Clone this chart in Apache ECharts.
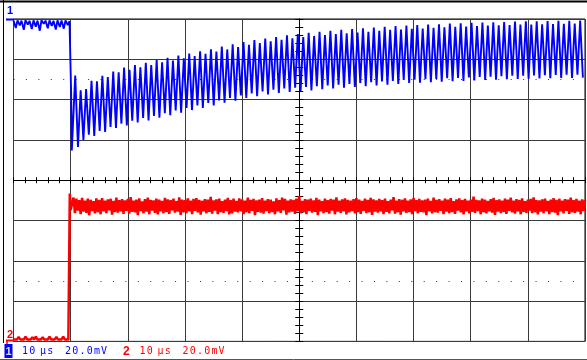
<!DOCTYPE html>
<html><head><meta charset="utf-8">
<script src="https://cdn.jsdelivr.net/npm/echarts@6/dist/echarts.min.js"></script>
<style>html,body{margin:0;padding:0;background:#fff}#c{width:587px;height:360px}</style>
</head><body><div id="c"></div>
<script>
// ---- scope settings (μs / mV) ----
const timeRange = [0, 100];
const timeDiv = 10;
const voltRange = [-80, 80];
const voltDiv = 20;
const refLevels = [50, -50];

// ---- channel 1 (blue) ----
const ch1Pre = [[0,79.3],[0.4,75.5],[0.7,79.3],[1.1,76.8],[1.4,79.2],[1.8,74.6],[2.1,79.4],[2.5,77.2],[2.8,79.1],[3.2,75.0],[3.5,79.3],[3.9,76.2],[4.2,79.2],[4.6,74.2],[4.9,79.4],[5.3,77.6],[5.6,79.2],[6.0,75.4],[6.3,79.3],[6.7,76.6],[7.0,79.1],[7.4,74.8],[7.7,79.3],[8.1,76.0],[8.4,79.2],[8.8,75.2],[9.1,79.3],[9.5,77.0],[9.8,79.0],[10.0,78.8],[10.08,44.0],[10.2,14.8]];
const ch1Ring = [
[10.80,52.0],[11.28,16.5],[11.75,44.6],[12.23,20.0],[12.70,45.2],[13.18,22.6],[13.65,49.3],[14.13,21.9],[14.60,49.1],[15.08,24.5],
[15.55,51.8],[16.03,24.0],[16.50,51.2],[16.98,26.4],[17.45,53.9],[17.93,25.9],[18.40,53.6],[18.88,28.1],[19.35,55.9],[19.83,27.2],
[20.30,54.8],[20.78,29.5],[21.25,57.1],[21.73,28.6],[22.20,56.0],[22.68,30.9],[23.15,58.3],[23.63,29.7],[24.10,57.2],[24.58,31.9],
[25.05,59.6],[25.53,31.0],[26.00,58.5],[26.48,33.3],[26.95,60.7],[27.43,32.2],[27.90,59.4],[28.38,34.6],[28.85,61.9],[29.33,33.5],
[29.80,60.5],[30.28,35.9],[30.75,62.8],[31.23,34.8],[31.70,61.6],[32.18,37.1],[32.65,64.0],[33.13,35.9],[33.60,62.7],[34.08,38.3],
[34.55,65.0],[35.03,37.1],[35.50,63.8],[35.98,39.6],[36.45,66.3],[36.93,38.4],[37.40,64.9],[37.88,40.8],[38.35,67.4],[38.83,39.5],
[39.30,66.1],[39.78,42.0],[40.25,68.6],[40.73,40.8],[41.20,67.2],[41.68,43.1],[42.15,69.5],[42.63,41.7],[43.10,68.1],[43.58,44.1],
[44.05,70.3],[44.53,42.6],[45.00,68.9],[45.48,44.9],[45.95,71.1],[46.43,43.3],[46.90,69.7],[47.38,45.5],[47.85,71.9],[48.33,43.8],
[48.80,70.4],[49.28,45.9],[49.75,72.5],[50.23,44.2],[50.70,71.0],[51.18,46.3],[51.65,73.1],[52.13,44.6],[52.60,71.6],[53.08,46.7],
[53.55,73.6],[54.03,45.1],[54.50,72.0],[54.98,47.0],[55.45,74.1],[55.93,45.5],[56.40,72.5],[56.88,47.4],[57.35,74.6],[57.83,45.9],
[58.30,72.9],[58.78,47.8],[59.25,75.0],[59.73,46.3],[60.20,73.3],[60.68,48.2],[61.15,75.4],[61.63,46.7],[62.10,73.7],[62.58,48.6],
[63.05,75.8],[63.53,47.0],[64.00,74.1],[64.48,49.0],[64.95,76.1],[65.43,47.4],[65.90,74.6],[66.38,49.3],[66.85,76.5],[67.33,47.8],
[67.80,74.8],[68.28,49.7],[68.75,76.8],[69.23,48.2],[69.70,75.1],[70.18,49.9],[70.65,77.0],[71.13,48.4],[71.60,75.3],[72.08,50.1],
[72.55,77.2],[73.03,48.6],[73.50,75.6],[73.98,50.3],[74.45,77.4],[74.93,48.9],[75.40,75.9],[75.88,50.6],[76.35,77.7],[76.83,49.1],
[77.30,76.1],[77.78,50.8],[78.25,77.9],[78.73,49.3],[79.20,76.3],[79.68,51.0],[80.15,78.1],[80.63,49.5],[81.10,76.5],[81.58,51.2],
[82.05,78.2],[82.53,49.7],[83.00,76.7],[83.48,51.4],[83.95,78.4],[84.43,49.9],[84.90,76.9],[85.38,51.6],[85.85,78.5],[86.33,50.1],
[86.80,77.0],[87.28,51.8],[87.75,78.7],[88.23,50.2],[88.70,77.2],[89.18,51.9],[89.65,78.8],[90.13,50.4],[90.60,77.3],[91.08,52.0],
[91.55,78.9],[92.03,50.5],[92.50,77.4],[92.98,52.1],[93.45,79.0],[93.93,50.6],[94.40,77.5],[94.88,52.2],[95.35,79.1],[95.83,50.7],
[96.30,77.6],[96.78,52.3],[97.25,79.1],[97.73,50.8],[98.20,77.7],[98.68,52.4],[99.15,79.2],[99.63,50.9]];

// ---- channel 2 (red) ----
const ch2Pre = [[0,-79.0],[0.3,-78.2],[0.6,-79.1],[0.9,-77.8],[1.2,-79.0],[1.5,-78.5],[1.8,-79.1],[2.1,-77.6],[2.4,-79.0],[2.7,-78.4],[3.0,-79.1],[3.3,-78.0],[3.6,-79.0],[3.9,-77.7],[4.2,-79.1],[4.5,-78.6],[4.8,-79.0],[5.1,-77.9],[5.4,-79.1],[5.7,-78.3],[6.0,-79.0],[6.3,-77.6],[6.6,-79.1],[6.9,-78.5],[7.2,-79.0],[7.5,-77.8],[7.8,-79.1],[8.1,-78.2],[8.4,-79.0],[8.7,-77.7],[9.0,-79.1],[9.3,-78.4],[9.6,-79.0],[9.8,-79.0],[9.85,-6.6]];
const ch2Post = [
[10,-14.8],[10.25,-15.4],[10.5,-8.6],[10.75,-16.3],[11,-9.2],[11.25,-15.1],[11.5,-9.9],[11.75,-16.8],
[12,-8.8],[12.25,-15.6],[12.5,-10.2],[12.75,-16.2],[13,-9.1],[13.25,-17.4],[13.5,-9.7],[13.75,-15.3],
[14,-10.4],[14.25,-16.5],[14.5,-9.0],[14.75,-15.9],[15,-9.8],[15.25,-16.9],[15.5,-8.9],[15.75,-15.4],
[16,-10.1],[16.25,-16.3],[16.5,-9.5],[16.75,-15.0],[17,-9.2],[17.25,-17.1],[17.5,-10.3],[17.75,-15.8],
[18,-8.6],[18.25,-16.1],[18.5,-9.9],[18.75,-15.5],[19,-9.4],[19.25,-16.7],[19.5,-10.0],[19.75,-15.2],
[20,-9.3],[20.25,-16.6],[20.5,-8.4],[20.75,-15.7],[21,-10.2],[21.25,-16.0],[21.5,-9.6],[21.75,-17.3],
[22,-9.0],[22.25,-15.3],[22.5,-10.5],[22.75,-16.4],[23,-9.4],[23.25,-15.6],[23.5,-8.7],[23.75,-16.9],
[24,-9.8],[24.25,-15.1],[24.5,-10.0],[24.75,-16.2],[25,-9.1],[25.25,-17.0],[25.5,-9.7],[25.75,-15.5],
[26,-10.3],[26.25,-16.4],[26.5,-8.8],[26.75,-15.8],[27,-9.5],[27.25,-16.7],[27.5,-9.9],[27.75,-15.0],
[28,-9.2],[28.25,-16.1],[28.5,-10.4],[28.75,-15.6],[29,-8.5],[29.25,-17.2],[29.5,-9.6],[29.75,-15.9],
[30,-9.9],[30.25,-16.3],[30.5,-9.0],[30.75,-15.4],[31,-10.1],[31.25,-16.8],[31.5,-9.3],[31.75,-15.2],
[32,-8.9],[32.25,-16.0],[32.5,-9.8],[32.75,-17.1],[33,-10.2],[33.25,-15.5],[33.5,-9.4],[33.75,-16.4],
[34,-9.7],[34.25,-15.7],[34.5,-8.3],[34.75,-16.6],[35,-10.0],[35.25,-15.1],[35.5,-9.5],[35.75,-16.9],
[36,-9.1],[36.25,-15.8],[36.5,-10.4],[36.75,-16.2],[37,-9.6],[37.25,-15.3],[37.5,-8.8],[37.75,-17.0],
[38,-9.9],[38.25,-16.5],[38.5,-9.2],[38.75,-15.6],[39,-10.3],[39.25,-16.0],[39.5,-9.0],[39.75,-15.4],
[40,-9.5],[40.25,-16.8],[40.5,-10.1],[40.75,-15.9],[41,-8.7],[41.25,-16.3],[41.5,-9.8],[41.75,-15.2],
[42,-9.3],[42.25,-17.3],[42.5,-10.0],[42.75,-15.7],[43,-9.6],[43.25,-16.1],[43.5,-8.9],[43.75,-16.6],
[44,-10.2],[44.25,-15.3],[44.5,-9.4],[44.75,-16.4],[45,-9.7],[45.25,-15.8],[45.5,-10.5],[45.75,-16.9],
[46,-9.0],[46.25,-15.5],[46.5,-9.9],[46.75,-16.2],[47,-8.6],[47.25,-15.0],[47.5,-9.3],[47.75,-17.1],
[48,-10.1],[48.25,-16.0],[48.5,-9.5],[48.75,-15.6],[49,-9.8],[49.25,-16.7],[49.5,-9.1],[49.75,-15.3],
[50,-7.9],[50.25,-16.4],[50.5,-10.3],[50.75,-15.9],[51,-9.4],[51.25,-16.8],[51.5,-9.7],[51.75,-15.2],
[52,-9.2],[52.25,-16.1],[52.5,-10.0],[52.75,-15.7],[53,-8.8],[53.25,-17.4],[53.5,-9.6],[53.75,-15.5],
[54,-10.4],[54.25,-16.3],[54.5,-9.1],[54.75,-15.8],[55,-9.9],[55.25,-16.6],[55.5,-9.3],[55.75,-15.1],
[56,-9.7],[56.25,-16.9],[56.5,-8.5],[56.75,-15.6],[57,-10.2],[57.25,-16.2],[57.5,-9.5],[57.75,-15.4],
[58,-9.0],[58.25,-17.0],[58.5,-9.8],[58.75,-16.0],[59,-10.1],[59.25,-15.3],[59.5,-9.4],[59.75,-16.5],
[60,-8.9],[60.25,-15.8],[60.5,-9.6],[60.75,-16.7],[61,-10.3],[61.25,-15.2],[61.5,-9.2],[61.75,-16.3],
[62,-9.8],[62.25,-15.9],[62.5,-8.7],[62.75,-17.2],[63,-9.5],[63.25,-15.6],[63.5,-10.0],[63.75,-16.1],
[64,-9.3],[64.25,-15.4],[64.5,-9.9],[64.75,-16.8],[65,-9.1],[65.25,-15.7],[65.5,-10.4],[65.75,-16.4],
[66,-9.6],[66.25,-15.0],[66.5,-8.4],[66.75,-16.6],[67,-10.1],[67.25,-15.9],[67.5,-9.4],[67.75,-17.1],
[68,-9.7],[68.25,-15.5],[68.5,-9.0],[68.75,-16.2],[69,-10.2],[69.25,-15.8],[69.5,-9.5],[69.75,-16.9],
[70,-8.8],[70.25,-15.3],[70.5,-9.9],[70.75,-16.4],[71,-9.3],[71.25,-15.7],[71.5,-10.0],[71.75,-16.0],
[72,-9.6],[72.25,-17.3],[72.5,-9.1],[72.75,-15.4],[73,-10.3],[73.25,-16.5],[73.5,-8.6],[73.75,-15.9],
[74,-9.8],[74.25,-16.1],[74.5,-9.4],[74.75,-15.2],[75,-10.1],[75.25,-16.8],[75.5,-9.2],[75.75,-15.6],
[76,-9.7],[76.25,-16.3],[76.5,-8.9],[76.75,-15.8],[77,-10.4],[77.25,-16.7],[77.5,-9.5],[77.75,-15.1],
[78,-9.0],[78.25,-16.0],[78.5,-9.9],[78.75,-17.0],[79,-9.3],[79.25,-15.5],[79.5,-10.2],[79.75,-16.4],
[80,-9.6],[80.25,-15.7],[80.5,-8.2],[80.75,-16.2],[81,-9.8],[81.25,-15.3],[81.5,-10.0],[81.75,-16.9],
[82,-9.1],[82.25,-15.9],[82.5,-9.7],[82.75,-16.5],[83,-10.3],[83.25,-15.4],[83.5,-9.4],[83.75,-16.1],
[84,-8.8],[84.25,-17.2],[84.5,-9.9],[84.75,-15.6],[85,-9.5],[85.25,-16.3],[85.5,-10.1],[85.75,-15.8],
[86,-9.2],[86.25,-16.7],[86.5,-9.6],[86.75,-15.2],[87,-8.7],[87.25,-16.0],[87.5,-10.2],[87.75,-16.6],
[88,-9.4],[88.25,-15.5],[88.5,-9.8],[88.75,-16.9],[89,-9.0],[89.25,-15.7],[89.5,-10.4],[89.75,-16.2],
[90,-9.7],[90.25,-15.1],[90.5,-9.3],[90.75,-16.4],[91,-8.5],[91.25,-15.9],[91.5,-9.9],[91.75,-17.0],
[92,-10.0],[92.25,-15.6],[92.5,-9.5],[92.75,-16.3],[93,-9.1],[93.25,-15.4],[93.5,-10.3],[93.75,-16.8],
[94,-9.6],[94.25,-15.8],[94.5,-8.9],[94.75,-16.1],[95,-9.8],[95.25,-17.3],[95.5,-9.2],[95.75,-15.5],
[96,-10.1],[96.25,-16.5],[96.5,-9.4],[96.75,-15.2],[97,-9.7],[97.25,-16.7],[97.5,-8.6],[97.75,-15.9],
[98,-9.9],[98.25,-16.2],[98.5,-9.3],[98.75,-15.6],[99,-10.2],[99.25,-16.9],[99.5,-9.5],[99.75,-15.3],
[100,-9.8]];

// ---- readout texts ----
const ch1Readout = ['10', 'μs', '20.0mV'];
const ch2Readout = ['10', 'μs', '20.0mV'];

const BLUE = '#0000ff', RED = '#ff0000';
const G = {left: 13.5, top: 19, width: 571.5, height: 322.4};
const halfW = G.width / 2;
const black = {color: '#000', width: 1};

function xAx(pos) {
  return {
    type: 'value', min: timeRange[0], max: timeRange[1], interval: timeDiv, position: pos,
    axisLine: {show: true, onZero: true, onZeroAxisIndex: 0, lineStyle: black},
    axisTick: {show: true, length: 3, lineStyle: black},
    minorTick: {show: true, splitNumber: 5, length: 3, lineStyle: black},
    axisLabel: {show: false},
    splitLine: {show: pos === 'bottom', lineStyle: {color: '#3a3a3a', width: 1}},
    minorSplitLine: {show: false}
  };
}
function yTickAx(pos) {
  return {
    type: 'value', min: voltRange[0], max: voltRange[1], interval: voltDiv, position: pos, offset: -halfW,
    axisLine: {show: true, onZero: false, lineStyle: black},
    axisTick: {show: true, length: 4, lineStyle: black},
    minorTick: {show: true, splitNumber: 5, length: 4, lineStyle: black},
    axisLabel: {show: false}, splitLine: {show: false}
  };
}

const txt = (text, x, y, fill, font) => ({type: 'text', silent: true, z: 100,
  style: {text, x, y, fill, font, verticalAlign: 'middle', align: 'left'}});
const ln = (x1, y1, x2, y2, stroke, w) => ({type: 'line', silent: true, z: 100,
  shape: {x1, y1, x2, y2}, style: {stroke, lineWidth: w}});
// readout characters on a fixed 7.2px pitch, like the scope's character cells
const mono = '10px "DejaVu Sans Mono", "Liberation Mono", monospace';
function cells(str, x0, y, fill) {
  return Array.from(str).map((ch, i) => ({type: 'text', silent: true, z: 100,
    style: {text: ch, x: x0 + i * 7.2 + 3.6, y, fill, font: mono, verticalAlign: 'middle', align: 'center'}}));
}

const chart = echarts.init(document.getElementById('c'), null, {renderer: 'canvas'});
chart.setOption({
  animation: false,
  backgroundColor: '#fff',
  grid: {left: G.left, top: G.top, width: G.width, height: G.height, show: true,
         borderColor: '#000', borderWidth: 1, containLabel: false},
  xAxis: [xAx('bottom'), xAx('top')],
  yAxis: [
    {type: 'value', min: voltRange[0], max: voltRange[1], interval: voltDiv,
     axisLine: {show: false}, axisTick: {show: false}, axisLabel: {show: false},
     splitLine: {show: true, lineStyle: {color: '#3a3a3a', width: 1}}},
    yTickAx('left'), yTickAx('right')
  ],
  series: [
    {type: 'line', name: 'CH1', xAxisIndex: 0, yAxisIndex: 0, data: ch1Pre.concat(ch1Ring),
     symbol: 'none', lineStyle: {color: BLUE, width: 1.9}, z: 3,
     markLine: {silent: true, symbol: 'none', label: {show: false},
       lineStyle: {color: '#000', width: 1, type: [1, G.width / 50], opacity: 0.8},
       data: refLevels.map(v => ({yAxis: v}))}},
    {type: 'line', name: 'CH2', xAxisIndex: 0, yAxisIndex: 0, data: ch2Pre.concat(ch2Post),
     symbol: 'none', lineStyle: {color: RED, width: 2.5}, z: 4}
  ],
  graphic: [
    ln(0, 1.5, 587, 1.5, '#000', 2),
    ln(3.5, 0, 3.5, 343, '#000', 1),
    ln(0, 359.5, 587, 359.5, '#555', 1),
    txt('1', 7, 11, BLUE, 'bold 11px "Liberation Sans", Arial, sans-serif'),
    ln(6, 19.5, 14, 19.5, BLUE, 2),
    txt('2', 7, 335, RED, 'bold 11px "Liberation Sans", Arial, sans-serif'),
    ln(6, 340.5, 14, 340.5, RED, 2),
    ln(7, 340.5, 7, 344.5, RED, 1.5),
    {type: 'rect', silent: true, z: 100, shape: {x: 4.5, y: 344, width: 8, height: 14}, style: {fill: BLUE}},
    txt('1', 5.5, 351.5, '#cfd8ff', 'bold 11px "Liberation Sans", Arial, sans-serif'),
    ...cells(ch1Readout[0], 21.5, 351.5, BLUE),
    ...cells(ch1Readout[1], 39.5, 351.5, BLUE),
    ...cells(ch1Readout[2], 64.5, 351.5, BLUE),
    txt('2', 123, 351.5, RED, 'bold 12px "Liberation Sans", Arial, sans-serif'),
    ...cells(ch2Readout[0], 139, 351.5, RED),
    ...cells(ch2Readout[1], 157, 351.5, RED),
    ...cells(ch2Readout[2], 182, 351.5, RED)
  ]
});
</script></body></html>
